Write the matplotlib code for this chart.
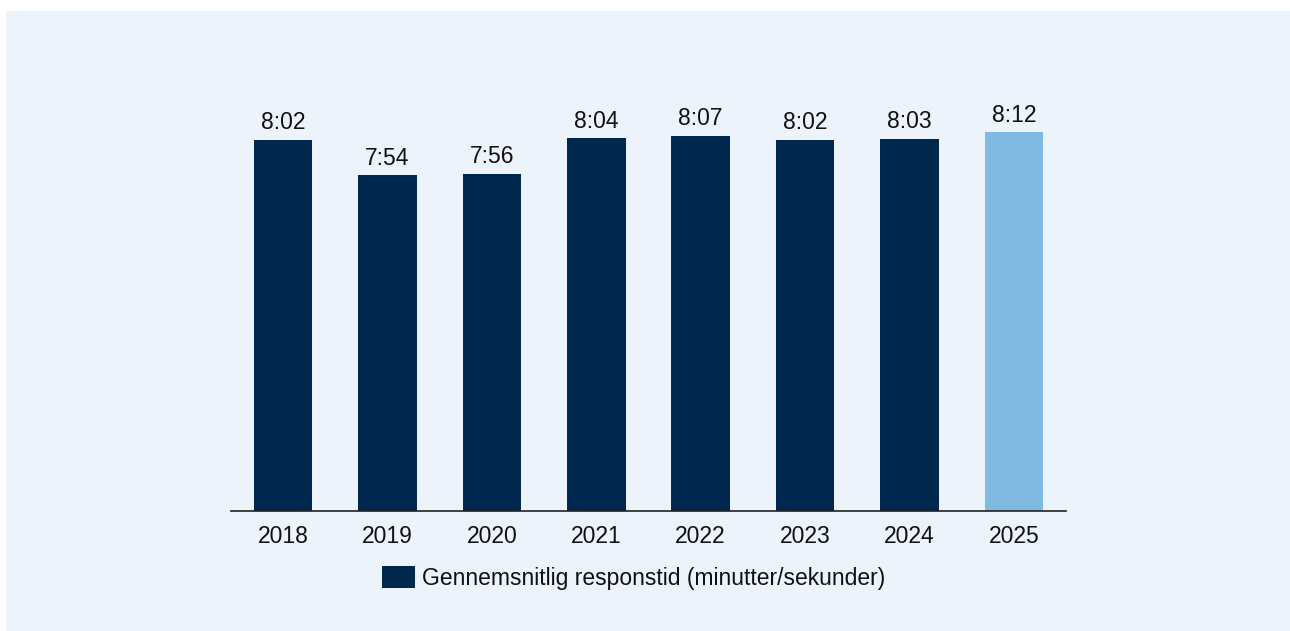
import matplotlib
matplotlib.use("Agg")
import matplotlib.pyplot as plt
from matplotlib.patches import Rectangle, Patch

# data
years = ["2018", "2019", "2020", "2021", "2022", "2023", "2024", "2025"]
values = [8.02, 7.54, 7.56, 8.04, 8.07, 8.02, 8.03, 8.12]
labels = ["8:02", "7:54", "7:56", "8:04", "8:07", "8:02", "8:03", "8:12"]
colors = ["#00284F"] * 7 + ["#80B9E1"]
legend_label = "Gennemsnitlig responstid (minutter/sekunder)"

PANEL = "#ECF3FA"
plt.rcParams["font.family"] = ["Liberation Sans", "DejaVu Sans"]
FS = 16.5

fig = plt.figure(figsize=(12.9, 6.31), dpi=100)
fig.patch.set_facecolor("white")
# light blue panel behind everything
fig.patches.append(Rectangle((6 / 1290, 0), 1, 1 - 11 / 631,
                             transform=fig.transFigure, facecolor=PANEL,
                             edgecolor="none", zorder=-10))

ax = fig.add_axes([231 / 1290, 1 - 511.3 / 631, 835 / 1290, (511.3 - 67) / 631])
ax.set_facecolor("none")
ax.set_zorder(1)

x = range(len(years))
bars = ax.bar(x, values, width=0.56, color=colors, zorder=2)
for b, lab in zip(bars, labels):
    ax.annotate(lab, (b.get_x() + b.get_width() / 2, b.get_height()),
                xytext=(0, 4), textcoords="offset points",
                ha="center", va="bottom", fontsize=FS, color="#111111")

ax.set_xlim(-0.5, len(years) - 0.5)
ax.set_ylim(3, 9)
ax.set_xticks(list(x))
ax.set_xticklabels(years, fontsize=FS, color="#111111")
ax.tick_params(axis="x", length=0, pad=10)
ax.set_yticks([])
for s in ["top", "right", "left"]:
    ax.spines[s].set_visible(False)
ax.spines["bottom"].set_color("#222222")
ax.spines["bottom"].set_linewidth(1.2)

handle = Patch(facecolor="#00284F", edgecolor="none")
fig.legend(handles=[handle], labels=[legend_label], loc="center",
           bbox_to_anchor=(633.5 / 1290, 1 - 578 / 631), frameon=False,
           fontsize=FS, handlelength=1.43, handleheight=1.09,
           handletextpad=0.3, labelcolor="#111111")

fig.savefig("out.png", dpi=100, facecolor=fig.get_facecolor())
